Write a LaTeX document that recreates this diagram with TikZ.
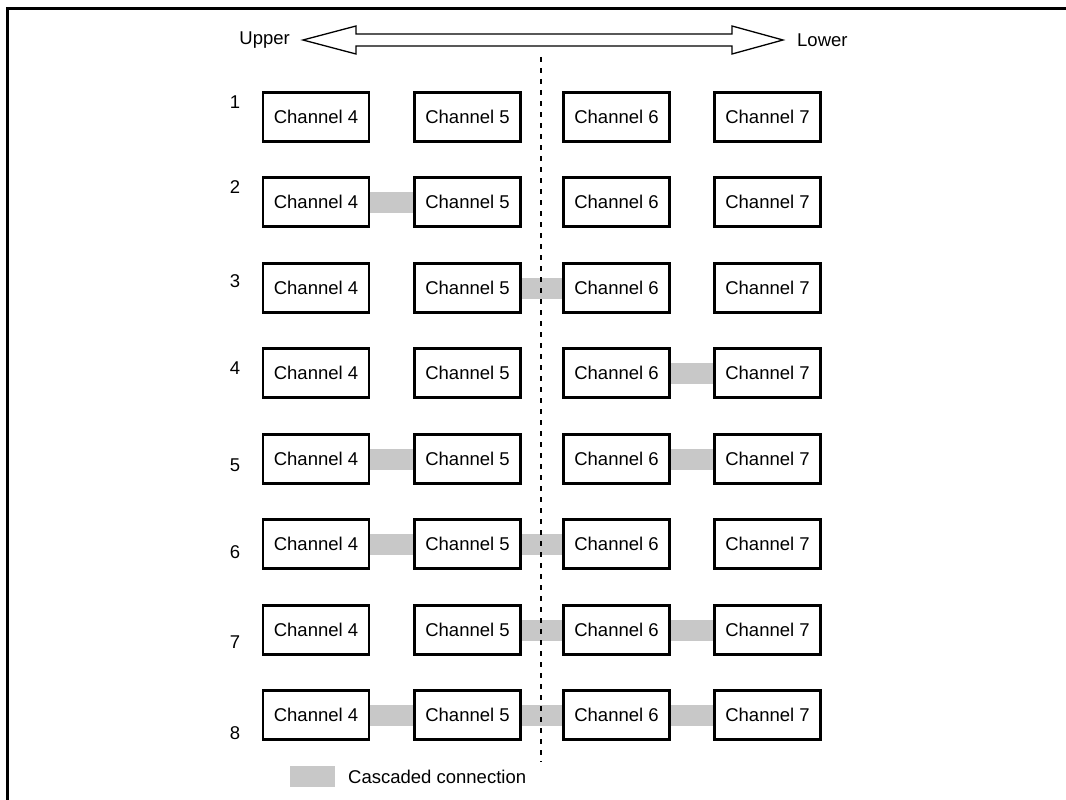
\documentclass[tikz,border=0pt]{standalone}
\usepackage{fontspec}
\setmainfont{Liberation Sans}
\definecolor{bandgray}{HTML}{C8C8C8}
\begin{document}
\begin{tikzpicture}[x=1pt,y=-1pt,
  chan/.style={draw=black,line width=2.2pt,fill=white,minimum width=106pt,minimum height=49pt,inner sep=0pt,font=\fontsize{18.5}{20}\selectfont},
  rowlab/.style={font=\fontsize{18.5}{20}\selectfont,inner sep=0pt},
  lab/.style={font=\fontsize{18.5}{20}\selectfont,inner sep=0pt},
  cascade/.style={draw=bandgray,line width=21pt},
  divider/.style={draw=black,line width=1.1pt,dash pattern=on 5pt off 6pt},
  frame/.style={draw=black,line width=3pt}]
\useasboundingbox (0,0) rectangle (1066,800);
% frame (top and left only)
\coordinate (fa) at (7,800);
\coordinate (fb) at (7,9);
\coordinate (fc) at (1066,9);
\draw[frame] (fa) -- (fb) -- (fc);
% top double arrow
\draw[line width=1.3pt,fill=white] (303,40) -- (356,26) -- (356,34) -- (732,34) -- (732,26) -- (783,40) -- (732,54) -- (732,46) -- (356,46) -- (356,54) -- cycle;
\node[lab,anchor=east] (upper) at (290,40) {Upper};
\node[lab,anchor=west] (lower) at (797,40) {Lower};
% rows
\foreach \r/\yy/\ly in {1/117/102,2/202/187,3/288/281,4/373/368,5/459/465,6/544/552,7/630/642,8/715/733}{
  \node[rowlab] (lab\r) at (235,\ly) {\r};
  \coordinate (p4-\r) at (316,\yy);
  \coordinate (p5-\r) at (467.5,\yy);
  \coordinate (p6-\r) at (616.5,\yy);
  \coordinate (p7-\r) at (767.5,\yy);
}
% cascaded connections (drawn first, boxes on top)
\foreach \r/\a/\b in {2/4/5,3/5/6,4/6/7,5/4/5,5/6/7,6/4/5,6/5/6,7/5/6,7/6/7,8/4/5,8/5/6,8/6/7}{
  \draw[cascade] (p\a-\r) -- (p\b-\r);
}
\foreach \r in {1,...,8}{
  \node[chan] (c4-\r) at (p4-\r) {Channel 4};
  \node[chan] (c5-\r) at (p5-\r) {Channel 5};
  \node[chan] (c6-\r) at (p6-\r) {Channel 6};
  \node[chan] (c7-\r) at (p7-\r) {Channel 7};
}
% divider
\coordinate (dtop) at (541,57);
\coordinate (dbot) at (541,762);
\draw[divider] (dtop) -- (dbot);
% legend
\node[fill=bandgray,minimum width=45pt,minimum height=21pt,inner sep=0pt] (legbox) at (312.5,776.5) {};
\node[lab,anchor=west] (legtext) at (348,777) {Cascaded connection};
\end{tikzpicture}
\end{document}
